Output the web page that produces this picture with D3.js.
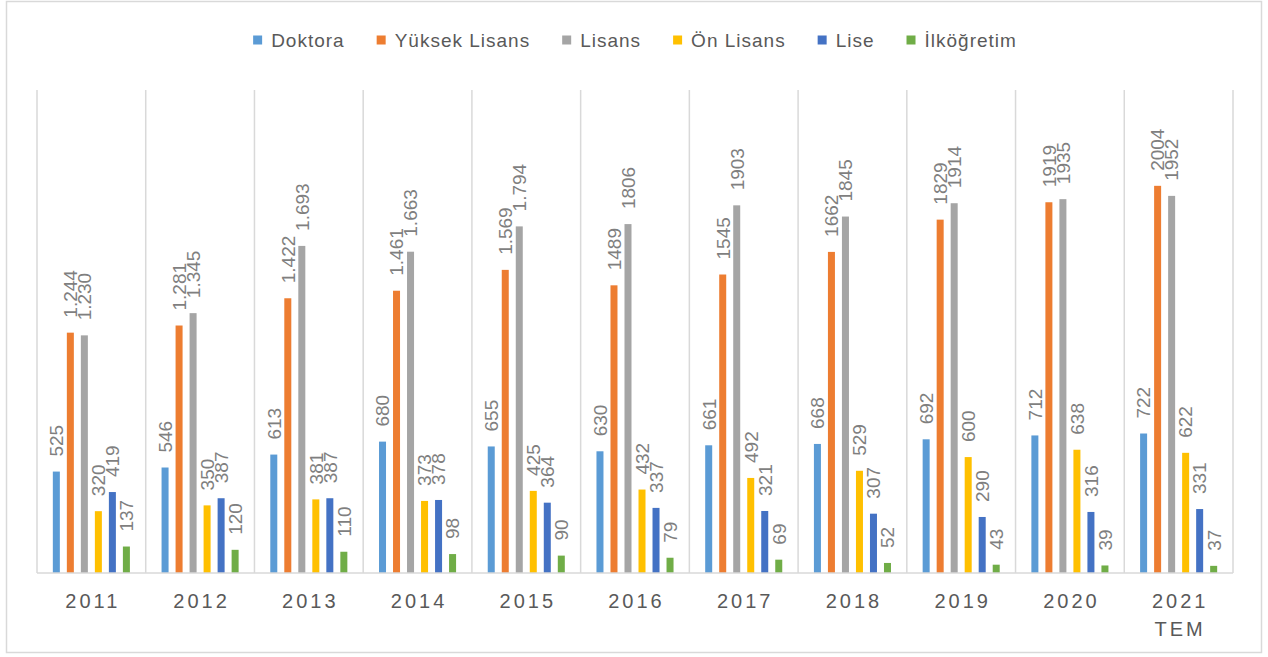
<!DOCTYPE html>
<html>
<head>
<meta charset="utf-8">
<script src="https://cdn.jsdelivr.net/npm/d3@7"></script>
<style>
  body { margin: 0; background: #fff; }
  svg { display: block; font-family: "Liberation Sans", Arial, sans-serif; }
</style>
</head>
<body>
<svg id="chart" width="1268" height="657"></svg>
<script>
// ---- Data ----
const categories = ["2011", "2012", "2013", "2014", "2015", "2016", "2017", "2018", "2019", "2020", "2021 TEM"];
const seriesNames = ["Doktora", "Yüksek Lisans", "Lisans", "Ön Lisans", "Lise", "İlköğretim"];
const doktora      = [525, 546, 613, 680, 655, 630, 661, 668, 692, 712, 722];
const yuksekLisans = [1244, 1281, 1422, 1461, 1569, 1489, 1545, 1662, 1829, 1919, 2004];
const lisans       = [1230, 1345, 1693, 1663, 1794, 1806, 1903, 1845, 1914, 1935, 1952];
const onLisans     = [320, 350, 381, 373, 425, 432, 492, 529, 600, 638, 622];
const lise         = [419, 387, 387, 378, 364, 337, 321, 307, 290, 316, 331];
const ilkogretim   = [137, 120, 110, 98, 90, 79, 69, 52, 43, 39, 37];
const seriesColors = ["#5B9BD5", "#ED7D31", "#A5A5A5", "#FFC000", "#4472C4", "#70AD47"];
// categories whose data labels use a thousands separator ("1.244")
const separatorCategories = ["2011", "2012", "2013", "2014", "2015"];
const yMax = 2500;

const seriesValues = [doktora, yuksekLisans, lisans, onLisans, lise, ilkogretim];

// ---- Layout ----
const W = 1268, H = 657;
const plot = { left: 37, right: 1233, top: 90, bottom: 573 };
const svg = d3.select("#chart");

svg.append("rect")
  .attr("x", 6.5).attr("y", 1.5)
  .attr("width", W - 13).attr("height", H - 6)
  .attr("fill", "#fff")
  .attr("stroke", "#d9d9d9").attr("stroke-width", 1.5);

const x0 = d3.scaleBand().domain(categories).range([plot.left, plot.right]).padding(0);
const x1 = d3.scaleBand().domain(seriesNames).range([0, x0.bandwidth()])
  .paddingInner(0.5).paddingOuter(1.13);
const y = d3.scaleLinear().domain([0, yMax]).range([plot.bottom, plot.top]);

// vertical category dividers
const dividers = categories.map(c => x0(c)).concat([x0.range()[1]]);
svg.append("g").selectAll("line").data(dividers).join("line")
  .attr("x1", d => d).attr("x2", d => d)
  .attr("y1", y(yMax)).attr("y2", y(0))
  .attr("stroke", "#d9d9d9").attr("stroke-width", 1.5);

// bars
const fmt = (v, cat) => {
  const s = String(v);
  return separatorCategories.includes(cat) ? s.replace(/\B(?=(\d{3})+(?!\d))/g, ".") : s;
};

const rows = [];
seriesNames.forEach((name, i) => {
  categories.forEach((cat, j) => {
    rows.push({ name, cat, value: seriesValues[i][j], color: seriesColors[i] });
  });
});

svg.append("g").selectAll("rect").data(rows).join("rect")
  .attr("x", d => x0(d.cat) + x1(d.name))
  .attr("y", d => y(d.value))
  .attr("width", x1.bandwidth())
  .attr("height", d => y(0) - y(d.value))
  .attr("fill", d => d.color);

// baseline
svg.append("line")
  .attr("x1", plot.left).attr("x2", plot.right)
  .attr("y1", y(0)).attr("y2", y(0))
  .attr("stroke", "#d9d9d9").attr("stroke-width", 1.5);

// data labels
svg.append("g").selectAll("text").data(rows).join("text")
  .attr("transform", d => `translate(${x0(d.cat) + x1(d.name) + x1.bandwidth() / 2},${y(d.value) - 15}) rotate(-90)`)
  .attr("dy", "0.36em")
  .attr("text-anchor", "start")
  .attr("font-size", 19)
  .attr("fill", "#7f7f7f")
  .text(d => fmt(d.value, d.cat));

// x axis labels
const xAxis = svg.append("g")
  .attr("transform", `translate(0,${y(0)})`)
  .call(d3.axisBottom(x0).tickSize(0).tickPadding(0));
xAxis.select(".domain").remove();
xAxis.selectAll("text")
  .attr("font-family", "Liberation Sans, Arial, sans-serif")
  .attr("font-size", 20)
  .attr("fill", "#595959")
  .attr("letter-spacing", 3)
  .attr("y", null).attr("dy", null)
  .each(function(d) {
    const t = d3.select(this);
    t.text(null);
    d.split(" ").forEach((part, k) => {
      t.append("tspan").attr("x", 1.5).attr("y", 35 + k * 28).text(part);
    });
  });

// legend
const legend = svg.append("g");
const markerSize = 9, markerGap = 9, itemGap = 32;
let cursor = 0;
const items = seriesNames.map((name, i) => {
  const g = legend.append("g");
  g.append("rect").attr("x", 0).attr("y", -markerSize / 2)
    .attr("width", markerSize).attr("height", markerSize).attr("fill", seriesColors[i]);
  const t = g.append("text").attr("x", markerSize + markerGap).attr("dy", "0.35em")
    .attr("font-size", 19).attr("fill", "#595959").attr("letter-spacing", 1).text(name);
  const w = t.node().getComputedTextLength();
  g.attr("transform", `translate(${cursor},0)`);
  cursor += markerSize + markerGap + w + itemGap;
  return g;
});
const totalW = cursor - itemGap;
legend.attr("transform", `translate(${(plot.left + plot.right) / 2 - totalW / 2},40)`);
</script>
</body>
</html>
